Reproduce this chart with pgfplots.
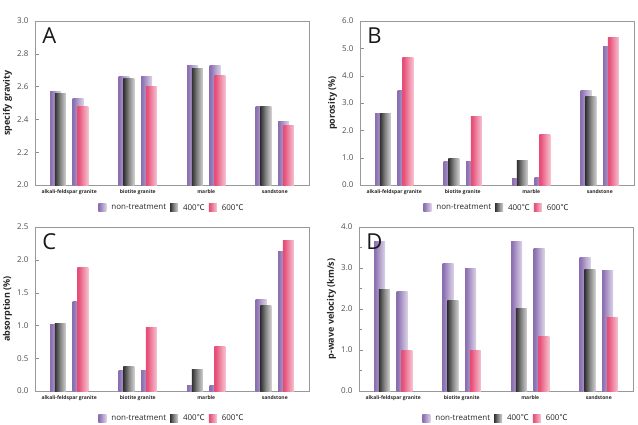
\documentclass[border=0pt]{standalone}
\usepackage{fontspec}
\setmainfont{Open Sans}
\newfontfamily\cjk{Noto Sans CJK KR}
\usepackage{pgfplots}
\usepackage{pgfplotstable}
\pgfplotsset{compat=1.18}

\definecolor{ntc}{HTML}{7B5BA6}
\definecolor{t4c}{HTML}{262626}
\definecolor{t6c}{HTML}{E43D6A}
\pgfdeclarehorizontalshading{ntshade}{100bp}{color(0bp)=(ntc); color(30bp)=(ntc!85!white); color(60bp)=(ntc!45!white); color(85bp)=(ntc!15!white); color(100bp)=(white)}
\pgfdeclarehorizontalshading{tfshade}{100bp}{color(0bp)=(t4c!55!white); color(22bp)=(t4c); color(50bp)=(t4c!55!white); color(80bp)=(t4c!15!white); color(100bp)=(white)}
\pgfdeclarehorizontalshading{tsshade}{100bp}{color(0bp)=(t6c); color(30bp)=(t6c!90!white); color(60bp)=(t6c!50!white); color(85bp)=(t6c!18!white); color(100bp)=(white)}

\pgfplotstableread{
x nt1 t4 nt2 t6
0 2.57 2.56 2.53 2.48
1 2.66 2.65 2.66 2.60
2 2.73 2.71 2.73 2.67
3 2.48 2.48 2.39 2.36
}\dataA
\pgfplotstableread{
x nt1 t4 nt2 t6
0 2.60 2.62 3.45 4.68
1 0.85 0.98 0.86 2.50
2 0.23 0.90 0.27 1.83
3 3.45 3.25 5.05 5.38
}\dataB
\pgfplotstableread{
x nt1 t4 nt2 t6
0 1.02 1.03 1.37 1.88
1 0.31 0.37 0.32 0.97
2 0.08 0.33 0.09 0.68
3 1.39 1.31 2.12 2.29
}\dataC
\pgfplotstableread{
x nt1 t4 nt2 t6
0 3.65 2.47 2.42 0.99
1 3.10 2.21 3.00 0.99
2 3.65 2.01 3.47 1.34
3 3.26 2.96 2.93 1.79
}\dataD

\tikzset{
  ntbar/.style={draw=none, shading=ntshade},
  tfbar/.style={draw=none, shading=tfshade},
  tsbar/.style={draw=none, shading=tsshade},
  letter/.style={anchor=north west, inner sep=0pt, font=\fontsize{22}{22}\selectfont, text=black!90},
}
\pgfplotsset{
  panel/.style={
    scale only axis, width=274pt, height=164pt,
    ybar, bar width=0.16,
    legend image code/.code={\path[##1] (0pt,-4pt) rectangle (8pt,4.5pt);},
    xmin=-0.5, xmax=3.5, xtick={0,1,2,3},
    xticklabels={alkali-feldspar granite, biotite granite, marble, sandstone},
    xticklabel style={font=\fontsize{5}{6}\selectfont\bfseries, text=black!85, yshift=-1.5pt},
    major x tick style={draw=none},
    axis line style={black!40}, tick style={black!45}, tick align=inside,
    ytick pos=left, xtick pos=bottom,
    yticklabel style={font=\fontsize{8}{10}\selectfont, text=black!70, xshift=-3pt,
      /pgf/number format/fixed, /pgf/number format/fixed zerofill, /pgf/number format/precision=1},
    /pgf/number format/assume math mode=true,
    ylabel style={at={(axis description cs:-0.1,0.5)}, anchor=center, font=\fontsize{9}{11}\selectfont\bfseries, text=black!85},
    legend columns=3,
    legend style={draw=none, fill=none, anchor=center, font=\fontsize{8}{10}\selectfont, text=black!85,
      /tikz/every odd column/.append style={column sep=3pt},
      /tikz/every even column/.append style={column sep=2pt}},
  },
}

\newcommand{\bars}[1]{%
  \pgfplotsinvokeforeach{0,1,2,3}{%
    \addplot[ntbar, bar shift=-0.2, forget plot, restrict x to domain=##1:##1] table[x=x,y=nt1]{#1};
    \addplot[tfbar, bar shift=-0.13, forget plot, restrict x to domain=##1:##1] table[x=x,y=t4]{#1};
    \addplot[ntbar, bar shift=0.13, forget plot, restrict x to domain=##1:##1] table[x=x,y=nt2]{#1};
    \addplot[tsbar, bar shift=0.2, forget plot, restrict x to domain=##1:##1] table[x=x,y=t6]{#1};
  }
  \addlegendimage{ntbar}\addlegendentry{non-treatment}
  \addlegendimage{tfbar}\addlegendentry{400{\cjk ℃}}
  \addlegendimage{tsbar}\addlegendentry{600{\cjk ℃}}
}

\begin{document}
\begin{tikzpicture}
\useasboundingbox (0,0) rectangle (638pt,424pt);
% A
\begin{axis}[panel, at={(35pt,239pt)}, anchor=south west,
  ymin=2.0, ymax=3.0, ytick={2.0,2.2,...,3.0}, ylabel={specify gravity},
  legend style={at={(0.5,-0.14)}}]
\bars{\dataA}
\node[letter] at (axis description cs:0.026,0.96) {A};
\end{axis}
% B
\begin{axis}[panel, at={(360pt,239pt)}, anchor=south west,
  ymin=0, ymax=6, ytick={0,1,...,6}, ylabel={porosity (\%)},
  legend style={at={(0.5,-0.14)}}]
\bars{\dataB}
\node[letter] at (axis description cs:0.026,0.96) {B};
\end{axis}
% C
\begin{axis}[panel, at={(35pt,33pt)}, anchor=south west,
  ymin=0, ymax=2.5, ytick={0,0.5,...,2.5}, ylabel={absorption (\%)},
  legend style={at={(0.5,-0.168)}}]
\bars{\dataC}
\node[letter] at (axis description cs:0.026,0.96) {C};
\end{axis}
% D
\begin{axis}[panel, at={(359pt,33pt)}, anchor=south west,
  ymin=0, ymax=4, ytick={0,1,...,4}, minor ytick={0.5,1.5,2.5,3.5}, ylabel={p-wave velocity (km/s)},
  legend style={at={(0.5,-0.168)}}]
\bars{\dataD}
\node[letter] at (axis description cs:0.026,0.96) {D};
\end{axis}
\end{tikzpicture}
\end{document}
